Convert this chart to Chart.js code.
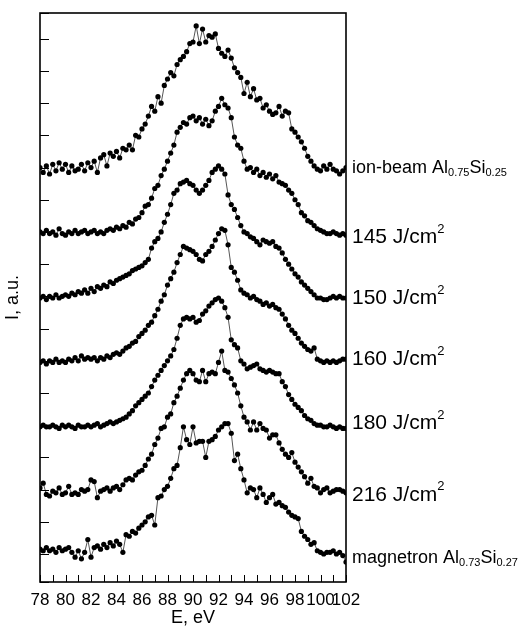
<!DOCTYPE html>
<html>
<head>
<meta charset="utf-8">
<script src="https://cdn.jsdelivr.net/npm/chart.js@4"></script>
<style>
  body { margin: 0; background: #fff; }
  canvas { display: block; }
</style>
</head>
<body>
<canvas id="spectra" width="524" height="631"></canvas>
<script>
// photon energy, eV
let energy = [78,78.25,78.5,78.75,79,79.25,79.5,79.75,80,80.25,80.5,80.75,81,81.25,81.5,81.75,
  82,82.25,82.5,82.75,83,83.25,83.5,83.75,84,84.25,84.5,84.75,85,85.25,85.5,85.75,
  86,86.25,86.5,86.75,87,87.25,87.5,87.75,88,88.25,88.5,88.75,89,89.25,89.5,89.75,
  90,90.25,90.5,90.75,91,91.25,91.5,91.75,92,92.25,92.5,92.75,93,93.25,93.5,93.75,
  94,94.25,94.5,94.75,95,95.25,95.5,95.75,96,96.25,96.5,96.75,97,97.25,97.5,97.75,
  98,98.25,98.5,98.75,99,99.25,99.5,99.75,100,100.25,100.5,100.75,101,101.25,101.5,101.75,102];

// intensities (already shifted vertically as in the figure)
let ionBeam = [12.0,11.85,12.05,11.8,12.1,11.9,12.15,11.95,12.1,11.85,12.05,11.9,11.95,12.1,11.9,12.15,
  12.0,12.2,11.85,12.3,12.4,12.05,12.45,12.35,12.5,12.3,12.6,12.55,12.7,12.55,13.0,12.95,
  13.2,13.35,13.6,13.9,13.75,14.2,14.0,14.55,14.75,14.95,14.85,15.2,15.35,15.45,15.6,15.85,
  15.9,16.4,15.85,16.3,15.9,16.1,16.05,16.15,15.7,15.55,15.45,15.65,15.4,15.1,14.95,14.8,
  14.3,14.65,14.2,14.45,14.1,14.15,13.85,13.95,13.75,13.65,13.7,13.9,13.6,13.75,13.7,13.2,
  13.1,12.95,12.8,12.6,12.35,12.2,12.05,11.95,11.9,12.05,11.95,12.1,11.95,11.9,11.8,11.9,12.0];
let j145 = [10.0,9.95,10.05,9.95,10.0,9.9,10.1,9.95,9.9,10.0,9.95,10.05,9.95,10.0,10.05,9.95,
  10.0,10.05,9.95,10.0,9.95,10.05,10.1,10.05,10.15,10.1,10.2,10.15,10.3,10.25,10.4,10.45,
  10.6,10.8,10.85,11.05,11.35,11.45,11.75,11.95,12.2,12.45,12.7,13.1,13.25,13.4,13.35,13.55,
  13.6,13.45,13.55,13.35,13.5,13.3,13.45,13.75,13.9,14.15,13.95,13.85,13.55,12.95,12.7,12.6,
  12.2,11.95,12.0,11.85,11.95,11.75,11.85,11.7,11.8,11.65,11.75,11.55,11.5,11.45,11.3,11.2,
  11.0,10.85,10.6,10.5,10.35,10.3,10.2,10.1,10.05,10.0,9.95,9.95,10.0,9.95,9.9,9.95,9.9];
let j150 = [7.95,8.0,7.9,8.0,7.95,8.05,7.95,8.0,8.05,8.0,8.1,8.05,8.15,8.1,8.2,8.1,
  8.25,8.15,8.3,8.25,8.35,8.3,8.45,8.4,8.5,8.55,8.6,8.65,8.7,8.8,8.85,8.9,
  8.95,9.05,9.15,9.5,9.7,9.8,10.0,10.3,10.55,10.85,11.2,11.3,11.5,11.55,11.6,11.5,
  11.45,11.3,11.2,11.3,11.45,11.6,11.85,11.95,12.05,11.95,11.8,11.15,10.85,10.7,10.45,10.2,
  10.0,9.95,9.85,9.8,9.7,9.6,9.75,9.7,9.65,9.7,9.55,9.5,9.35,9.15,9.0,8.85,
  8.7,8.6,8.45,8.35,8.25,8.15,8.05,7.95,7.95,7.9,7.9,7.95,8.0,7.95,8.0,7.95,7.95];
let j160 = [5.95,6.0,5.9,6.0,5.95,6.05,5.95,6.0,5.95,6.05,6.0,6.1,6.0,6.15,6.05,6.1,
  6.05,6.1,6.0,6.1,6.05,6.15,6.1,6.2,6.25,6.2,6.3,6.4,6.45,6.55,6.6,6.75,
  6.85,6.95,7.1,7.2,7.4,7.6,7.85,8.05,8.35,8.55,8.75,9.05,9.3,9.55,9.5,9.45,
  9.4,9.3,9.15,9.1,9.3,9.4,9.55,9.75,9.95,10.1,10.05,9.6,8.9,8.75,8.5,8.2,
  8.1,8.05,7.95,8.0,7.9,7.85,7.75,7.8,7.7,7.75,7.65,7.6,7.45,7.3,7.1,6.95,
  6.85,6.7,6.55,6.45,6.35,6.3,6.4,6.05,6.0,5.95,6.0,5.95,6.0,5.95,6.0,6.05,6.05];
let j180 = [3.95,4.0,3.95,3.95,4.0,3.95,3.9,4.0,3.95,4.0,3.95,3.9,4.0,3.95,3.95,4.0,
  3.95,4.0,4.05,3.95,4.0,4.05,4.1,4.05,4.1,4.15,4.2,4.25,4.35,4.45,4.6,4.7,
  4.8,4.9,5.0,5.2,5.4,5.55,5.7,5.85,6.0,6.15,6.35,6.7,7.1,7.3,7.35,7.3,
  7.35,7.2,7.25,7.45,7.55,7.7,7.8,7.9,7.95,7.85,7.65,7.35,6.65,6.5,6.4,6.0,
  5.9,5.75,5.8,5.85,5.9,5.75,5.7,5.65,5.7,5.65,5.6,5.6,5.35,5.2,4.95,4.8,
  4.65,4.55,4.45,4.3,4.2,4.15,4.05,4.0,4.0,3.95,3.95,4.0,3.95,3.9,3.95,3.9,3.9];
let j216 = [2.05,2.2,1.85,1.8,1.95,1.9,2.05,1.85,1.9,2.1,1.85,1.9,1.85,2.0,1.95,2.0,
  2.3,2.25,1.75,1.95,2.0,2.05,1.95,2.05,2.1,2.0,2.15,2.3,2.35,2.3,2.45,2.55,
  2.6,2.75,2.95,3.1,3.4,3.6,3.9,3.95,4.25,4.35,4.7,4.9,5.15,5.4,5.6,5.7,
  5.6,5.4,5.35,5.7,5.35,5.6,5.65,5.6,5.95,6.3,5.7,5.65,5.45,5.25,5.0,4.6,
  4.25,4.1,3.85,4.1,3.85,4.05,3.9,3.85,3.6,3.7,3.7,3.45,3.25,3.1,3.0,3.15,
  2.85,2.7,2.55,2.4,2.2,2.35,2.1,2.05,1.9,2.0,2.05,1.9,1.95,2.0,2.0,1.95,1.9];
let magnetron = [0.15,0.1,0.2,0.1,0.15,0.05,0.2,0.1,0.15,0.2,0.05,-0.1,0.1,-0.15,0.05,0.45,
  -0.1,0.2,0.25,0.15,0.3,0.2,0.35,0.25,0.4,0.3,0.05,0.6,0.55,0.7,0.65,0.8,
  0.9,1.0,1.15,1.2,0.9,1.75,1.8,2.0,2.1,2.35,2.65,2.75,3.3,3.95,3.55,3.4,
  3.95,3.45,3.5,3.5,3.0,3.5,3.55,3.65,3.85,3.95,4.05,4.05,3.75,2.9,3.1,2.65,
  2.3,1.9,2.05,2.0,1.75,2.05,1.85,1.6,1.75,1.85,1.55,1.6,1.5,1.45,1.3,1.2,
  1.15,1.1,0.7,0.55,0.45,0.3,0.35,0.1,0.05,0.0,0.05,0.05,0.1,0.0,0.05,-0.05,-0.25];

// right-hand labels: [text, 'sub'|'sup'|'']
let seriesLabels = [
  [['ion-beam Al',''],['0.75','sub'],['Si',''],['0.25','sub']],
  [['145 J/cm',''],['2','sup']],
  [['150 J/cm',''],['2','sup']],
  [['160 J/cm',''],['2','sup']],
  [['180 J/cm',''],['2','sup']],
  [['216 J/cm',''],['2','sup']],
  [['magnetron Al',''],['0.73','sub'],['Si',''],['0.27','sub']]
];
let labelSizes = [18, 21, 21, 21, 21, 21, 18];
let labelNudge = [0, 2, 0, 0, -5, 2, -4];

let allSeries = [ionBeam, j145, j150, j160, j180, j216, magnetron];
let FONT = '"Liberation Sans", Arial, sans-serif';

let toPoints = (ys) => ys.map((v, i) => ({x: energy[i], y: v}));

let datasets = allSeries.map((ys) => ({
  data: toPoints(ys),
  borderColor: '#555',
  borderWidth: 1,
  backgroundColor: '#000',
  pointRadius: 2.6,
  pointBorderWidth: 0,
  pointBackgroundColor: '#000',
  tension: 0
}));

let frameAndTicks = {
  id: 'frameAndTicks',
  afterDraw(chart) {
    let ctx = chart.ctx;
    let a = chart.chartArea;
    let xs = chart.scales.x, ys = chart.scales.y;
    ctx.save();
    ctx.strokeStyle = '#000';
    ctx.lineWidth = 1;
    ctx.beginPath();
    xs.ticks.forEach((t) => {
      let px = Math.round(xs.getPixelForValue(t.value)) + 0.5;
      ctx.moveTo(px, a.bottom);
      ctx.lineTo(px, a.bottom - 7);
    });
    ys.ticks.forEach((t) => {
      let py = Math.round(ys.getPixelForValue(t.value)) + 0.5;
      ctx.moveTo(a.left, py);
      ctx.lineTo(a.left + 9, py);
    });
    ctx.stroke();
    ctx.lineWidth = 1.6;
    ctx.strokeRect(a.left, a.top, a.right - a.left, a.bottom - a.top);
    ctx.restore();
  }
};

let rightLabels = {
  id: 'rightLabels',
  afterDraw(chart) {
    let ctx = chart.ctx;
    let a = chart.chartArea;
    let ys = chart.scales.y;
    ctx.save();
    ctx.fillStyle = '#000';
    ctx.textBaseline = 'middle';
    seriesLabels.forEach((parts, k) => {
      let series = allSeries[k];
      let y = ys.getPixelForValue(series[series.length - 1]) + labelNudge[k];
      let x = a.right + 6;
      let size = labelSizes[k];
      parts.forEach(([txt, kind]) => {
        let s = kind ? Math.round(size * 0.62) : size;
        let dy = kind === 'sub' ? size * 0.3 : kind === 'sup' ? -size * 0.38 : 0;
        ctx.font = s + 'px ' + FONT;
        ctx.fillText(txt, x, y + dy);
        x += ctx.measureText(txt).width;
      });
    });
    ctx.restore();
  }
};

new Chart(document.getElementById('spectra').getContext('2d'), {
  type: 'line',
  data: { datasets: datasets },
  plugins: [frameAndTicks, rightLabels],
  options: {
    responsive: false,
    animation: false,
    devicePixelRatio: 1,
    layout: { padding: { top: 13, right: 178, left: 0, bottom: 0 } },
    plugins: { legend: { display: false }, tooltip: { enabled: false } },
    scales: {
      x: {
        type: 'linear',
        min: 78,
        max: 102,
        afterFit: (s) => { s.height = 49; },
        grid: { display: false, drawTicks: false },
        border: { display: false },
        ticks: {
          stepSize: 1,
          autoSkip: false,
          maxRotation: 0,
          padding: 8,
          color: '#000',
          font: { family: FONT, size: 17 },
          callback: (v) => (v % 2 === 0 ? String(v) : '')
        },
        title: {
          display: true,
          text: 'E, eV',
          color: '#000',
          font: { family: FONT, size: 18 },
          padding: { top: 0, bottom: 2 }
        }
      },
      y: {
        type: 'linear',
        min: -0.87,
        max: 16.8,
        afterFit: (s) => { s.width = 40; },
        grid: { display: false, drawTicks: false },
        border: { display: false },
        ticks: { display: false, stepSize: 1 },
        title: {
          display: true,
          text: 'I, a.u.',
          color: '#000',
          font: { family: FONT, size: 18 },
          padding: 2
        }
      }
    }
  }
});
</script>
</body>
</html>
